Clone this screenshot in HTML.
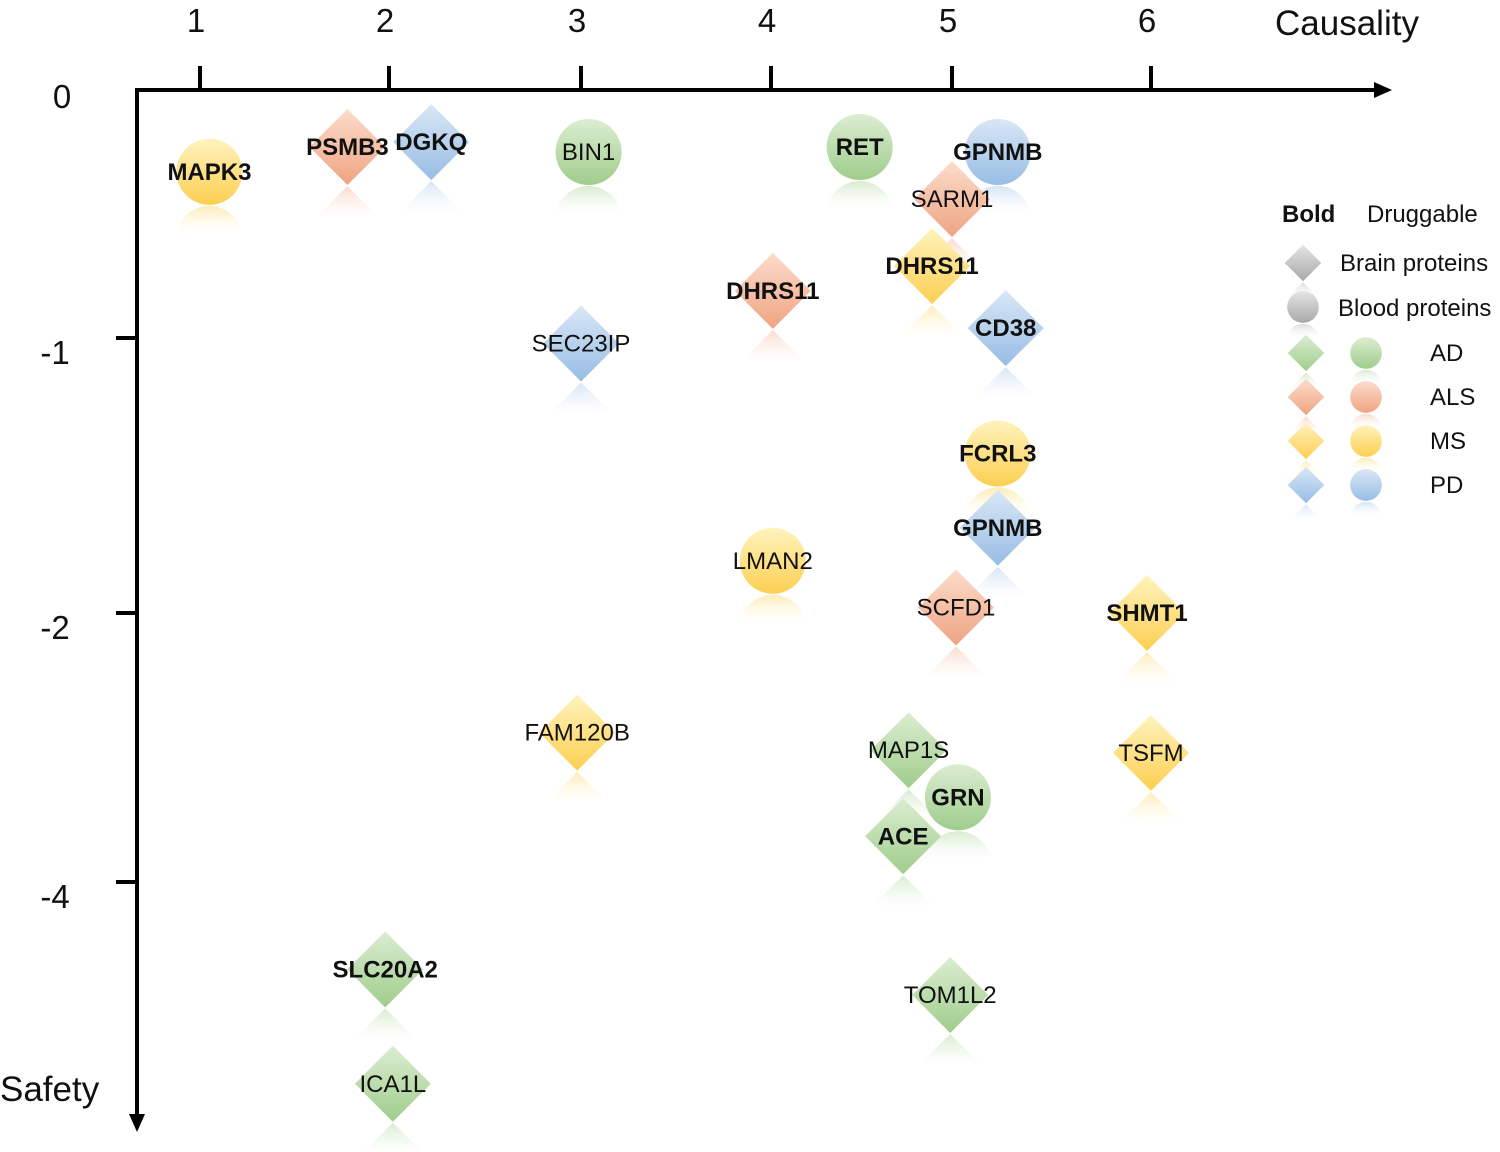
<!DOCTYPE html>
<html><head><meta charset="utf-8"><style>
html,body{margin:0;padding:0;background:#fff;}
svg{display:block;font-family:"Liberation Sans",Arial,sans-serif;}
</style></head><body>
<svg id="chart" width="1500" height="1152" viewBox="0 0 1500 1152">
<defs id="defs"></defs>
<g id="axes"></g>
<g id="refl"></g>
<g id="marks"></g>
<g id="legend"></g>
</svg>
<script>
const genes = ["MAPK3","PSMB3","DGKQ","BIN1","RET","GPNMB","SARM1","DHRS11","DHRS11","CD38","SEC23IP","FCRL3","GPNMB","LMAN2","SCFD1","SHMT1","FAM120B","MAP1S","GRN","ACE","TSFM","SLC20A2","TOM1L2","ICA1L"];
const causality = [1.05,1.78,2.22,3.04,4.49,5.23,5.0,4.89,4.01,5.27,3.0,5.23,5.23,4.01,5.02,5.98,2.98,4.76,5.03,4.73,6.0,1.98,4.99,2.02];
const safety = [-0.33,-0.23,-0.21,-0.25,-0.23,-0.25,-0.44,-0.71,-0.81,-0.96,-1.02,-1.42,-1.69,-1.81,-1.98,-2.0,-2.89,-3.02,-3.37,-3.66,-3.04,-4.65,-4.84,-5.5];
const shapes = ["c","d","d","c","c","c","d","d","d","d","d","c","d","c","d","d","d","d","c","d","d","d","d","d"];
const diseases = ["MS","ALS","PD","AD","AD","PD","ALS","MS","ALS","PD","PD","MS","PD","MS","ALS","MS","MS","AD","AD","AD","MS","AD","AD","AD"];
const druggable = [1,1,1,0,1,1,0,1,1,1,0,1,1,0,0,1,0,0,1,1,0,1,0,0];
const xTicks = [1,2,3,4,5,6];
const yTicks = [0,-1,-2,-4];

const NS="http://www.w3.org/2000/svg";
function el(tag,attrs,parent){const e=document.createElementNS(NS,tag);for(const k in attrs)e.setAttribute(k,attrs[k]);if(parent)parent.appendChild(e);return e;}
const xKnotV=[1,2,3,4,5,6], xKnotP=[200,389,581,771,952,1151];
const yKnotV=[0,-1,-2,-4], yKnotP=[90,338,613,882];
function interp(v,kv,kp){
  let i=0; const n=kv.length;
  const asc=kv[1]>kv[0];
  for(i=0;i<n-2;i++){ if(asc? v<=kv[i+1] : v>=kv[i+1]) break; }
  const t=(v-kv[i])/(kv[i+1]-kv[i]);
  return kp[i]+t*(kp[i+1]-kp[i]);
}
const xs=v=>interp(v,xKnotV,xKnotP);
const ys=v=>interp(v,yKnotV,yKnotP);

const colors={AD:["#dcedd2","#9fcd8b"],ALS:["#fcdccb","#efa482"],MS:["#fff3bd","#fccf52"],PD:["#d9e7f5","#98bde5"],GR:["#e4e4e4","#a9a9a9"]};
const defs=document.getElementById('defs');
for(const k in colors){
  const g=el('linearGradient',{id:'g'+k,x1:0,y1:0,x2:0,y2:1},defs);
  el('stop',{offset:'0','stop-color':colors[k][0]},g);
  el('stop',{offset:'1','stop-color':colors[k][1]},g);
  const r=el('linearGradient',{id:'r'+k,x1:0,y1:0,x2:0,y2:1},defs);
  el('stop',{offset:'0','stop-color':colors[k][1],'stop-opacity':'0.4'},r);
  el('stop',{offset:'0.42','stop-color':colors[k][0],'stop-opacity':'0'},r);
}

const ax=document.getElementById('axes');
let a=el('line',{x1:137,y1:90,x2:1378,y2:90,stroke:'#000','stroke-width':4},ax);

el('polygon',{points:'1392,90 1374,82 1374,98',fill:'#000'},ax);
a=el('line',{x1:137,y1:88,x2:137,y2:1118,stroke:'#000','stroke-width':4},ax);

el('polygon',{points:'137,1132 129,1114 145,1114',fill:'#000'},ax);
xTicks.forEach(v=>{
  const x=xs(v);
  const t=el('line',{x1:x,y1:66,x2:x,y2:90,stroke:'#000','stroke-width':4},ax);
  
  const l=el('text',{x:x-4,y:32,'font-size':33,'text-anchor':'middle',fill:'#111'},ax);
  l.textContent=v;
  
});
yTicks.forEach(v=>{
  const y=ys(v);
  if(v!==0){const t=el('line',{x1:116,y1:y,x2:137,y2:y,stroke:'#000','stroke-width':4},ax);
  }
  const l=el('text',{x:v===0?62:55,y:y+(v===0?18:26),'font-size':33,'text-anchor':'middle',fill:'#111'},ax);
  l.textContent=v;
  
});
let tt=el('text',{x:1275,y:35,'font-size':35,fill:'#111'},ax);tt.textContent='Causality';

tt=el('text',{x:0,y:1101,'font-size':35,fill:'#111'},ax);tt.textContent='Safety';


function drawShape(parent,refl,shape,cx,cy,col,s){
  const R=shape==='c'?33*s:38*s;
  if(shape==='c'){
    el('circle',{cx:cx,cy:cy,r:R,fill:'url(#g'+col+')'},parent);
    el('circle',{cx:cx,cy:cy+2*R+1,r:R,fill:'url(#r'+col+')'},refl);
  }else{
    el('polygon',{points:`${cx},${cy-R} ${cx+R},${cy} ${cx},${cy+R} ${cx-R},${cy}`,fill:'url(#g'+col+')'},parent);
    const c2=cy+2*R+1;
    el('polygon',{points:`${cx},${c2-R} ${cx+R},${c2} ${cx},${c2+R} ${cx-R},${c2}`,fill:'url(#r'+col+')'},refl);
  }
}
const refl=document.getElementById('refl'), marks=document.getElementById('marks');
genes.forEach((g,i)=>{
  const cx=xs(causality[i]), cy=ys(safety[i]);
  const grp=el('g',{},marks);
  
  
  drawShape(grp,refl,shapes[i],cx,cy,diseases[i],1);
});
genes.forEach((g,i)=>{
  const cx=xs(causality[i]), cy=ys(safety[i]);
  const t=el('text',{x:cx,y:cy+8,'font-size':24,'text-anchor':'middle',fill:'#111','font-weight':druggable[i]?'bold':'normal'},marks);
  t.textContent=g;
  
  
});

const lg=document.getElementById('legend');
function txt(x,y,s,bold,name){const t=el('text',{x:x,y:y,'font-size':24,fill:'#111','font-weight':bold?'bold':'normal'},lg);t.textContent=s;
  }
txt(1282,222,'Bold',true,'legend-bold');
txt(1367,222,'Druggable',false,'legend-druggable');
drawShape(lg,lg,'d',1303,263,'GR',0.48);
txt(1340,271,'Brain proteins',false,'legend-brain-proteins');
drawShape(lg,lg,'c',1303,307,'GR',0.48);
txt(1338,316,'Blood proteins',false,'legend-blood-proteins');
const lgD=['AD','ALS','MS','PD'];
lgD.forEach((d,i)=>{
  const y=353+i*44;
  drawShape(lg,lg,'d',1306,y,d,0.48);
  drawShape(lg,lg,'c',1366,y,d,0.48);
  txt(1430,y+8,d,false,'legend-'+d.toLowerCase());
});
</script>
</body></html>
